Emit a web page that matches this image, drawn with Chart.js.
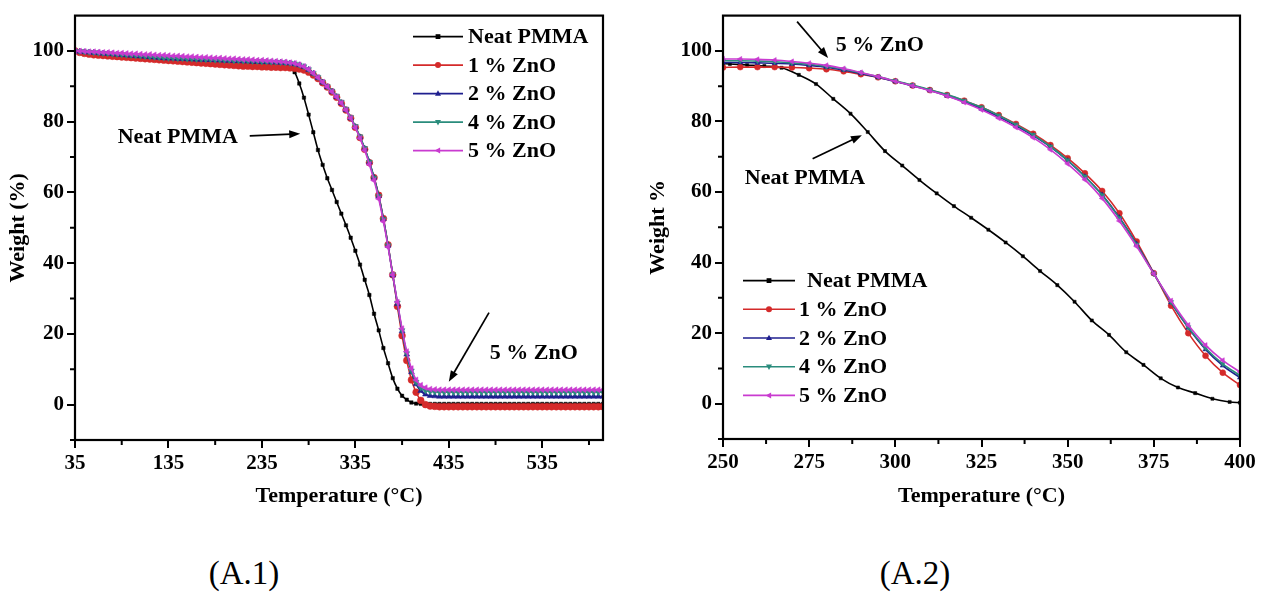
<!DOCTYPE html>
<html>
<head>
<meta charset="utf-8">
<title>TGA PMMA / ZnO</title>
<script src="https://cdn.jsdelivr.net/npm/chart.js@4.4.1/dist/chart.umd.min.js"></script>
<style>
  html, body { margin: 0; padding: 0; background: #fff; }
  body { width: 1269px; height: 599px; position: relative; overflow: hidden; font-family: "Liberation Serif", "Times New Roman", serif; }
  .box { position: absolute; top: 0; height: 520px; }
  #boxA { left: 0; width: 620px; }
  #boxB { left: 640px; width: 629px; }
  .cap { position: absolute; top: 553px; width: 140px; text-align: center; font-size: 33px; line-height: 40px; color: #000; }
</style>
</head>
<body>
<div class="box" id="boxA"><canvas id="chartA"></canvas></div>
<div class="box" id="boxB"><canvas id="chartB"></canvas></div>
<div class="cap" style="left:174px">(A.1)</div>
<div class="cap" style="left:845px">(A.2)</div>
<script>
const seriesNames = ['Neat PMMA', '1 % ZnO', '2 % ZnO', '4 % ZnO', '5 % ZnO'];

// (A.1) full range, temperature in °C
const tempA = [35, 40, 45, 50, 55, 60, 65, 70, 75, 80, 85, 90, 95, 100, 105, 110, 115, 120, 125, 130,
  135, 140, 145, 150, 155, 160, 165, 170, 175, 180, 185, 190, 195, 200, 205, 210, 215, 220, 225, 230,
  235, 240, 245, 250, 255, 260, 265, 270, 275, 280, 285, 290, 295, 300, 305, 310, 315, 320, 325, 330,
  335, 340, 345, 350, 355, 360, 365, 370, 375, 380, 385, 390, 395, 400, 405, 410, 415, 420, 425, 430,
  435, 440, 445, 450, 455, 460, 465, 470, 475, 480, 485, 490, 495, 500, 505, 510, 515, 520, 525, 530,
  535, 540, 545, 550, 555, 560, 565, 570, 575, 580, 585, 590, 595, 600];

const neatA = [100.0, 99.9, 99.8, 99.7, 99.6, 99.5, 99.4, 99.3, 99.2, 99.1, 99.0, 98.9, 98.8, 98.7, 98.6, 98.5, 98.4, 98.3, 98.2, 98.1,
  98.0, 97.9, 97.8, 97.7, 97.6, 97.5, 97.4, 97.3, 97.2, 97.1, 97.0, 96.9, 96.8, 96.8, 96.7, 96.6, 96.6, 96.5, 96.5, 96.4,
  96.4, 96.3, 96.2, 96.0, 95.8, 95.6, 95.3, 94.0, 90.8, 86.8, 82.0, 77.0, 72.0, 67.8, 64.0, 60.7, 57.3, 54.0, 50.7, 47.2,
  43.5, 39.6, 35.3, 31.0, 25.7, 21.0, 16.0, 11.7, 7.5, 4.5, 2.5, 1.4, 0.6, 0.3, 0.2, 0.2, 0.2, 0.2, 0.2, 0.2,
  0.2, 0.2, 0.2, 0.2, 0.2, 0.2, 0.2, 0.2, 0.2, 0.2, 0.2, 0.2, 0.2, 0.2, 0.2, 0.2, 0.2, 0.2, 0.2, 0.2,
  0.2, 0.2, 0.2, 0.2, 0.2, 0.2, 0.2, 0.2, 0.2, 0.2, 0.2, 0.2, 0.2, 0.2];

const zno1A = [100.0, 99.6, 99.3, 99.1, 98.9, 98.8, 98.7, 98.6, 98.5, 98.4, 98.3, 98.2, 98.1, 98.0, 97.9, 97.8, 97.7, 97.6, 97.5, 97.4,
  97.3, 97.2, 97.1, 97.0, 96.9, 96.8, 96.7, 96.6, 96.5, 96.4, 96.3, 96.2, 96.1, 96.0, 95.9, 95.8, 95.7, 95.7, 95.6, 95.6,
  95.5, 95.5, 95.4, 95.4, 95.3, 95.3, 95.2, 95.1, 94.9, 94.6, 94.0, 93.2, 92.2, 91.0, 89.8, 88.4, 86.9, 85.2, 83.3, 81.0,
  78.4, 75.5, 72.2, 68.4, 64.2, 59.2, 52.6, 45.2, 36.7, 27.8, 19.5, 12.5, 7.0, 3.5, 1.2, 0.0, -0.4, -0.5, -0.6, -0.6,
  -0.6, -0.6, -0.6, -0.6, -0.6, -0.6, -0.6, -0.6, -0.6, -0.6, -0.6, -0.6, -0.6, -0.6, -0.6, -0.6, -0.6, -0.6, -0.6, -0.6,
  -0.6, -0.6, -0.6, -0.6, -0.6, -0.6, -0.6, -0.6, -0.6, -0.6, -0.6, -0.6, -0.6, -0.6];

const zno2A = [100.0, 99.8, 99.7, 99.6, 99.5, 99.4, 99.3, 99.2, 99.1, 99.0, 98.9, 98.8, 98.7, 98.6, 98.5, 98.4, 98.3, 98.2, 98.1, 98.0,
  97.9, 97.9, 97.8, 97.8, 97.7, 97.7, 97.6, 97.6, 97.5, 97.5, 97.4, 97.4, 97.3, 97.3, 97.2, 97.2, 97.1, 97.1, 97.0, 97.0,
  96.9, 96.9, 96.8, 96.8, 96.7, 96.6, 96.5, 96.3, 96.0, 95.5, 94.7, 93.6, 92.4, 91.1, 89.8, 88.5, 87.0, 85.3, 83.3, 81.0,
  78.5, 75.6, 72.4, 68.6, 64.2, 59.0, 52.5, 45.0, 36.6, 28.5, 20.8, 14.2, 9.2, 5.8, 3.9, 2.9, 2.5, 2.4, 2.3, 2.3,
  2.3, 2.3, 2.3, 2.3, 2.3, 2.3, 2.3, 2.3, 2.3, 2.3, 2.3, 2.3, 2.3, 2.3, 2.3, 2.3, 2.3, 2.3, 2.3, 2.3,
  2.3, 2.3, 2.3, 2.3, 2.3, 2.3, 2.3, 2.3, 2.3, 2.3, 2.3, 2.3, 2.3, 2.3];

const zno4A = [100.0, 99.9, 99.8, 99.7, 99.6, 99.5, 99.4, 99.3, 99.2, 99.1, 99.0, 98.9, 98.8, 98.7, 98.6, 98.5, 98.4, 98.3, 98.2, 98.1,
  98.0, 98.0, 97.9, 97.9, 97.8, 97.8, 97.7, 97.7, 97.6, 97.6, 97.5, 97.5, 97.4, 97.4, 97.3, 97.3, 97.2, 97.2, 97.1, 97.1,
  97.0, 97.0, 96.9, 96.9, 96.8, 96.7, 96.6, 96.4, 96.1, 95.6, 94.8, 93.7, 92.6, 91.3, 90.0, 88.7, 87.3, 85.6, 83.6, 81.3,
  78.7, 75.8, 72.5, 68.6, 64.1, 58.9, 52.4, 45.0, 36.8, 28.8, 21.0, 14.5, 9.6, 6.4, 4.8, 4.0, 3.7, 3.6, 3.5, 3.5,
  3.5, 3.5, 3.5, 3.5, 3.5, 3.5, 3.5, 3.5, 3.5, 3.5, 3.5, 3.5, 3.5, 3.5, 3.5, 3.5, 3.5, 3.5, 3.5, 3.5,
  3.5, 3.5, 3.5, 3.5, 3.5, 3.5, 3.5, 3.5, 3.5, 3.5, 3.5, 3.5, 3.5, 3.5];

const zno5A = [100.0, 100.0, 99.9, 99.8, 99.8, 99.7, 99.6, 99.6, 99.5, 99.4, 99.4, 99.3, 99.2, 99.2, 99.1, 99.0, 99.0, 98.9, 98.8, 98.8,
  98.7, 98.6, 98.6, 98.5, 98.4, 98.4, 98.3, 98.2, 98.2, 98.1, 98.0, 98.0, 97.9, 97.8, 97.8, 97.7, 97.6, 97.6, 97.5, 97.4,
  97.4, 97.3, 97.2, 97.1, 97.0, 96.9, 96.7, 96.5, 96.1, 95.6, 94.8, 93.7, 92.5, 91.2, 89.9, 88.5, 87.0, 85.3, 83.3, 81.0,
  78.3, 75.3, 71.9, 67.9, 63.4, 58.2, 51.8, 44.6, 36.7, 29.0, 21.5, 15.0, 10.2, 7.0, 5.5, 4.8, 4.4, 4.3, 4.2, 4.2,
  4.2, 4.2, 4.2, 4.2, 4.2, 4.2, 4.2, 4.2, 4.2, 4.2, 4.2, 4.2, 4.2, 4.2, 4.2, 4.2, 4.2, 4.2, 4.2, 4.2,
  4.2, 4.2, 4.2, 4.2, 4.2, 4.2, 4.2, 4.2, 4.2, 4.2, 4.2, 4.2, 4.2, 4.2];

// (A.2) zoomed range 250-400 °C
const tempNeatB = [250, 252, 257, 262, 267, 272, 277, 282, 287, 292, 297, 302, 307, 312, 317, 322,
  327, 332, 337, 342, 347, 352, 357, 362, 367, 372, 377, 382, 387, 392, 397, 400];
const neatB = [96.4, 96.3, 96.0, 95.7, 95.2, 93.2, 90.6, 86.4, 82.2, 77.0, 71.6, 67.5, 63.4, 59.6, 56.0, 52.7,
  49.3, 45.7, 41.8, 37.6, 33.6, 28.9, 23.6, 19.5, 14.6, 11.0, 7.2, 4.6, 3.0, 1.4, 0.5, 0.3];

const tempB = [250, 255, 260, 265, 270, 275, 280, 285, 290, 295, 300, 305, 310, 315, 320, 325,
  330, 335, 340, 345, 350, 355, 360, 365, 370, 375, 380, 385, 390, 395, 400];
const zno1B = [95.3, 95.4, 95.4, 95.4, 95.3, 95.1, 94.8, 94.2, 93.4, 92.5, 91.4, 90.2, 88.9, 87.5, 85.9, 84.0,
  81.8, 79.3, 76.5, 73.3, 69.6, 65.3, 60.3, 54.0, 46.0, 37.0, 27.8, 20.0, 13.6, 8.8, 5.3];
const zno2B = [96.7, 96.7, 96.6, 96.5, 96.3, 95.9, 95.4, 94.6, 93.6, 92.5, 91.3, 90.1, 88.8, 87.3, 85.6, 83.6,
  81.3, 78.8, 76.0, 72.8, 68.9, 64.4, 59.2, 52.8, 45.3, 36.9, 28.7, 21.5, 15.4, 10.8, 7.4];
const zno4B = [97.2, 97.2, 97.1, 96.9, 96.6, 96.2, 95.6, 94.8, 93.8, 92.7, 91.5, 90.3, 89.0, 87.6, 85.9, 84.0,
  81.7, 79.1, 76.2, 72.9, 69.0, 64.4, 59.1, 52.6, 45.1, 36.8, 28.8, 21.7, 15.8, 11.3, 8.0];
const zno5B = [97.7, 97.7, 97.6, 97.4, 97.0, 96.5, 95.9, 95.0, 93.9, 92.7, 91.4, 90.1, 88.7, 87.2, 85.4, 83.3,
  80.9, 78.3, 75.4, 72.0, 68.0, 63.5, 58.2, 51.8, 44.6, 36.8, 29.2, 22.3, 16.6, 12.3, 9.0];

const ticksXA = [35, 135, 235, 335, 435, 535];
const minorXA = [85, 185, 285, 385, 485, 585];
const ticksXB = [250, 275, 300, 325, 350, 375, 400];
const minorXB = [262.5, 287.5, 312.5, 337.5, 362.5, 387.5];
const ticksY = [0, 20, 40, 60, 80, 100];
const minorY = [-10, 10, 30, 50, 70, 90];

const colors = ['#000000', '#d42a2a', '#1f1f8f', '#2a8c7c', '#c93bd0'];
const markers = [
  { style: 'rect', rot: 0 },
  { style: 'circle', rot: 0 },
  { style: 'triangle', rot: 0 },
  { style: 'triangle', rot: 180 },
  { style: 'triangle', rot: -90 }
];

const fontFamily = "'Liberation Serif', 'Times New Roman', serif";
const tickFont = { family: fontFamily, weight: 'bold', size: 21 };
const titleFont = { family: fontFamily, weight: 'bold', size: 22 };

function pts(xs, ys) {
  return xs.map((x, i) => ({ x: x, y: ys[i] }));
}

function makeSet(i, xs, ys, radius) {
  return {
    label: seriesNames[i],
    data: pts(xs, ys),
    borderColor: colors[i],
    backgroundColor: colors[i],
    borderWidth: 1.6,
    pointStyle: markers[i].style,
    pointRotation: markers[i].rot,
    pointRadius: i === 0 ? radius - 0.6 : radius,
    pointBorderWidth: 0.5,
    cubicInterpolationMode: 'monotone',
    order: 4 - i
  };
}

function drawMarker(ctx, m, x, y, r, color) {
  ctx.save();
  ctx.fillStyle = color;
  ctx.translate(x, y);
  ctx.rotate(m.rot * Math.PI / 180);
  ctx.beginPath();
  if (m.style === 'rect') {
    ctx.rect(-r * 0.8, -r * 0.8, r * 1.6, r * 1.6);
  } else if (m.style === 'circle') {
    ctx.arc(0, 0, r, 0, Math.PI * 2);
  } else {
    ctx.moveTo(0, -r * 1.1);
    ctx.lineTo(r, r * 0.7);
    ctx.lineTo(-r, r * 0.7);
    ctx.closePath();
  }
  ctx.fill();
  ctx.restore();
}

function arrow(ctx, x1, y1, x2, y2) {
  const a = Math.atan2(y2 - y1, x2 - x1);
  const len = 11;
  ctx.save();
  ctx.strokeStyle = '#000';
  ctx.fillStyle = '#000';
  ctx.lineWidth = 1.7;
  ctx.beginPath();
  ctx.moveTo(x1, y1);
  ctx.lineTo(x2 - Math.cos(a) * len * 0.8, y2 - Math.sin(a) * len * 0.8);
  ctx.stroke();
  ctx.beginPath();
  ctx.moveTo(x2, y2);
  ctx.lineTo(x2 - len * Math.cos(a) + 4 * Math.sin(a), y2 - len * Math.sin(a) - 4 * Math.cos(a));
  ctx.lineTo(x2 - len * Math.cos(a) - 4 * Math.sin(a), y2 - len * Math.sin(a) + 4 * Math.cos(a));
  ctx.closePath();
  ctx.fill();
  ctx.restore();
}

// frame, minor ticks, legend and the arrow notes
const decorPlugin = {
  id: 'decor',
  afterDraw(chart) {
    const ctx = chart.ctx;
    const ca = chart.chartArea;
    const sx = chart.scales.x;
    const sy = chart.scales.y;
    const o = chart.options.plugins.decor;

    ctx.save();
    ctx.strokeStyle = '#000';
    ctx.lineWidth = 2.2;
    ctx.strokeRect(ca.left, ca.top, ca.right - ca.left, ca.bottom - ca.top);
    ctx.lineWidth = 2;
    ctx.beginPath();
    o.minorX.forEach(v => {
      const px = sx.getPixelForValue(v);
      ctx.moveTo(px, ca.bottom);
      ctx.lineTo(px, ca.bottom + 5);
    });
    o.minorY.forEach(v => {
      const py = sy.getPixelForValue(v);
      ctx.moveTo(ca.left, py);
      ctx.lineTo(ca.left - 5, py);
    });
    ctx.stroke();

    // legend
    ctx.font = "bold 22px " + fontFamily;
    ctx.textBaseline = 'middle';
    ctx.textAlign = 'left';
    const lg = o.legend;
    chart.data.datasets.forEach((ds, i) => {
      const y = ca.top + lg.top + i * lg.gap;
      const x1 = ca.left + lg.left;
      ctx.strokeStyle = ds.borderColor;
      ctx.lineWidth = 1.6;
      ctx.beginPath();
      ctx.moveTo(x1, y);
      ctx.lineTo(x1 + lg.len, y);
      ctx.stroke();
      drawMarker(ctx, markers[i], x1 + lg.len / 2, y, 3, ds.borderColor);
      ctx.fillStyle = '#000';
      ctx.fillText(ds.label, x1 + lg.len + (i === 0 ? lg.firstGap : lg.textGap), y + 1);
    });

    // notes with arrows
    o.notes.forEach(n => {
      ctx.fillStyle = '#000';
      ctx.textAlign = 'center';
      ctx.fillText(n.text, sx.getPixelForValue(n.tx), sy.getPixelForValue(n.ty));
      arrow(ctx, sx.getPixelForValue(n.ax1), sy.getPixelForValue(n.ay1),
        sx.getPixelForValue(n.ax2), sy.getPixelForValue(n.ay2));
    });
    ctx.restore();
  }
};

function makeChart(id, sets, xr, xTicks, yTitle, yWidth, xHeight, pad, decor) {
  return new Chart(document.getElementById(id), {
    type: 'line',
    data: { datasets: sets },
    options: {
      responsive: true,
      maintainAspectRatio: false,
      animation: false,
      layout: { padding: pad },
      plugins: { legend: { display: false }, tooltip: { enabled: false }, decor: decor },
      scales: {
        x: {
          type: 'linear',
          min: xr[0],
          max: xr[1],
          afterBuildTicks: s => { s.ticks = xTicks.map(v => ({ value: v })); },
          afterFit: s => { s.height = xHeight; },
          ticks: { font: tickFont, color: '#000', padding: 3, maxRotation: 0, autoSkip: false },
          grid: { drawOnChartArea: false, drawTicks: true, tickLength: 8, color: '#000', lineWidth: 2 },
          border: { display: false },
          title: {
            display: true,
            text: 'Temperature (°C)',
            font: titleFont,
            color: '#000',
            padding: { top: 4, bottom: 10 }
          }
        },
        y: {
          min: -10,
          max: 110,
          afterBuildTicks: s => { s.ticks = ticksY.map(v => ({ value: v })); },
          afterFit: s => { s.width = yWidth; },
          ticks: { font: tickFont, color: '#000', padding: 3 },
          grid: { drawOnChartArea: false, drawTicks: true, tickLength: 8, color: '#000', lineWidth: 2 },
          border: { display: false },
          title: {
            display: true,
            text: yTitle,
            font: titleFont,
            color: '#000',
            padding: { top: 5, bottom: 4 }
          }
        }
      }
    },
    plugins: [decorPlugin]
  });
}

const setsA = [
  makeSet(0, tempA, neatA, 3),
  makeSet(1, tempA, zno1A, 3.4),
  makeSet(2, tempA, zno2A, 3.4),
  makeSet(3, tempA, zno4A, 3.4),
  makeSet(4, tempA, zno5A, 3.4)
];
const setsB = [
  makeSet(0, tempNeatB, neatB, 2.8),
  makeSet(1, tempB, zno1B, 3),
  makeSet(2, tempB, zno2B, 3),
  makeSet(3, tempB, zno4B, 3),
  makeSet(4, tempB, zno5B, 3)
];

makeChart('chartA', setsA, [35, 600], ticksXA, 'Weight (%)', 75, 80,
  { left: 0, right: 17, top: 12, bottom: 0 },
  {
    minorX: minorXA, minorY: minorY,
    legend: { left: 338, top: 21, gap: 28.5, len: 50, textGap: 5, firstGap: 5 },
    notes: [
      { text: 'Neat PMMA', tx: 145, ty: 75.5, ax1: 222, ay1: 76, ax2: 276, ay2: 76.6 },
      { text: '5 % ZnO', tx: 526, ty: 14.4, ax1: 478, ay1: 26, ax2: 435, ay2: 6.5 }
    ]
  });

makeChart('chartB', setsB, [250, 400], ticksXB, 'Weight %', 83, 81,
  { left: 0, right: 29, top: 7, bottom: 0 },
  {
    minorX: minorXB, minorY: minorY,
    legend: { left: 20, top: 265, gap: 28.7, len: 52, textGap: 4, firstGap: 12 },
    notes: [
      { text: '5 % ZnO', tx: 295.5, ty: 101.7, ax1: 271.5, ay1: 108.3, ax2: 280.5, ay2: 98 },
      { text: 'Neat PMMA', tx: 273.8, ty: 63.9, ax1: 276, ay1: 69.4, ax2: 290.3, ay2: 76.1 }
    ]
  });
</script>
</body>
</html>
